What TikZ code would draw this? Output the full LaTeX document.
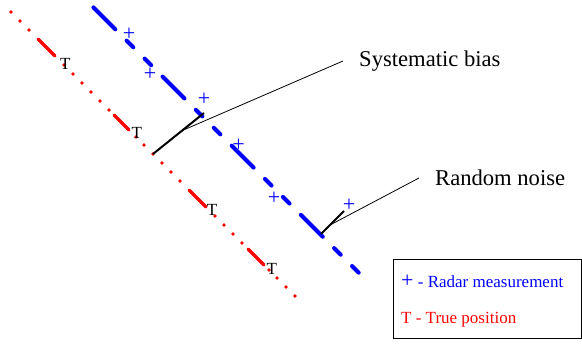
\documentclass[tikz,border=0pt]{standalone}
\usepackage{fontspec}
\setmainfont{Liberation Serif}
\usepackage{tikz}
\usetikzlibrary{calc}
\tikzset{
  radarline/.style={blue, line width=4pt, line cap=round, dash pattern=on 31pt off 16pt on 9.4pt off 16pt on 9.4pt off 16pt},
  truedash/.style={red, line width=3.5pt, line cap=round},
  meas/.style={text=blue, inner sep=0pt, font=\fontsize{22}{22}\selectfont},
  truemark/.style={text=black, inner sep=0pt, font=\fontsize{17}{17}\selectfont},
  errline/.style={black, line width=2pt},
  leader/.style={black, line width=0.8pt},
  note/.style={inner xsep=16pt, inner ysep=0pt, anchor=west, font=\fontsize{22.6}{26}\selectfont},
  legbox/.style={draw=black, line width=1pt, minimum width=188pt, minimum height=79pt, inner sep=0pt},
  legtext/.style={anchor=base west, inner sep=0pt, font=\fontsize{17}{20}\selectfont}
}
\begin{document}
\begin{tikzpicture}[x=1pt, y=-1pt]
\useasboundingbox (0,0) rectangle (582,344);

% true track
\foreach \x in {11,20,29,64,73,82,91,100,109,136,144,153,162,171,180,215,224,233,242,269,277,286,295}
  \fill[red] (\x,\x+1) circle (1.8pt);
\foreach \a/\b in {37/56, 113/130, 188/207, 247/265}
  \draw[truedash] (\a+1.2,\a+2.2) -- (\b-1.2,\b-0.2);
\foreach \x/\y [count=\i] in {65.3/63.8, 136.7/133, 212/209.5, 271.7/268.5}
  \node[truemark] (true\i) at (\x,\y) {T};

% radar track
\coordinate (rstart) at (93.4,7.4);
\coordinate (rend) at (358.7,272.7);
\draw[radarline] (rstart) -- (rend);
\foreach \x/\y [count=\i] in {129/34, 150/74, 204/99, 238.5/145, 274/198.5, 349/205.5}
  \node[meas] (meas\i) at (\x,\y) {+};

% bias
\coordinate (truept) at (153,154);
\coordinate (biaspt) at (204,113);
\draw[errline] (truept) -- (biaspt);
\node[note] (biaslabel) at (343,61) {Systematic bias};
\draw[leader] ($(truept)!0.57!(biaspt)$) -- (biaslabel.west);

% noise
\coordinate (noisept) at (321,234);
\coordinate (measpt) at (344,211);
\draw[errline] (noisept) -- (measpt);
\node[note] (noiselabel) at (419,178) {Random noise};
\draw[leader] ($(noisept)!0.39!(measpt)$) -- (noiselabel.west);

% legend
\node[legbox] (legend) at (487,299.5) {};
\node[legtext, text=blue] (legradar) at (401,288) {{\fontsize{22}{22}\selectfont +} - Radar measurement};
\node[legtext, text=red] (legtrue) at (401,324) {T - True position};
\end{tikzpicture}
\end{document}
